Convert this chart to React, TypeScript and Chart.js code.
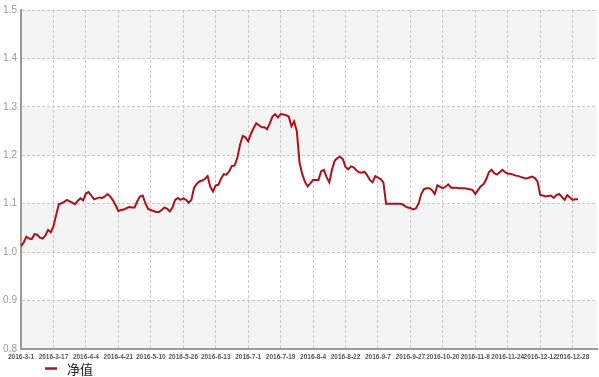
import React, { useEffect, useRef } from 'react';
import { Chart, registerables } from 'chart.js';

Chart.register(...registerables);

const seriesName = '净值';
const lineColor = '#b0101a';

const xTickLabels = [
  '2016-3-1', '2016-3-17', '2016-4-4', '2016-4-21', '2016-5-10', '2016-5-26',
  '2016-6-13', '2016-7-1', '2016-7-19', '2016-8-4', '2016-8-22', '2016-9-7',
  '2016-9-27', '2016-10-20', '2016-11-8', '2016-11-24', '2016-12-12', '2016-12-28',
];
const xTickIndex = [0, 12, 24, 36, 48, 60, 72, 84, 96, 108, 120, 132, 144, 156, 168, 180, 192, 204];

const navValues = [
  1.012, 1.020, 1.032, 1.028, 1.027, 1.037, 1.036, 1.030, 1.028, 1.034,
  1.046, 1.041, 1.053, 1.077, 1.099, 1.101, 1.104, 1.108, 1.105, 1.102,
  1.099, 1.106, 1.111, 1.107, 1.121, 1.124, 1.117, 1.109, 1.111, 1.113,
  1.112, 1.115, 1.120, 1.115, 1.107, 1.097, 1.085, 1.087, 1.088, 1.091,
  1.093, 1.092, 1.092, 1.105, 1.115, 1.117, 1.101, 1.089, 1.087, 1.085,
  1.083, 1.083, 1.087, 1.092, 1.090, 1.084, 1.092, 1.108, 1.112, 1.108,
  1.111, 1.108, 1.102, 1.108, 1.133, 1.141, 1.146, 1.148, 1.151, 1.157,
  1.135, 1.125, 1.138, 1.139, 1.152, 1.161, 1.160, 1.167, 1.178, 1.179,
  1.195, 1.222, 1.240, 1.237, 1.229, 1.244, 1.256, 1.266, 1.262, 1.258,
  1.258, 1.254, 1.266, 1.280, 1.285, 1.278, 1.285, 1.284, 1.283, 1.280,
  1.260, 1.270, 1.250, 1.185, 1.161, 1.145, 1.136, 1.142, 1.149, 1.149,
  1.149, 1.167, 1.170, 1.155, 1.144, 1.170, 1.189, 1.194, 1.197, 1.192,
  1.176, 1.171, 1.177, 1.175, 1.169, 1.165, 1.164, 1.166, 1.159, 1.149,
  1.144, 1.157, 1.154, 1.151, 1.144, 1.100, 1.100, 1.100, 1.100, 1.100,
  1.100, 1.099, 1.095, 1.092, 1.091, 1.088, 1.090, 1.100, 1.120, 1.130,
  1.132, 1.132, 1.128, 1.120, 1.138, 1.135, 1.132, 1.135, 1.140, 1.133,
  1.133, 1.133, 1.132, 1.132, 1.132, 1.131, 1.130, 1.128, 1.120, 1.128,
  1.136, 1.140, 1.150, 1.165, 1.170, 1.163, 1.160, 1.165, 1.170, 1.165,
  1.162, 1.162, 1.160, 1.158, 1.157, 1.155, 1.153, 1.152, 1.154, 1.156,
  1.153, 1.146, 1.118, 1.117, 1.115, 1.116, 1.117, 1.112, 1.118, 1.120,
  1.114, 1.108, 1.118, 1.113, 1.108, 1.109, 1.109,
];

const yMin = 0.8;
const yMax = 1.5;
const yStep = 0.1;
const xMax = 213;

const bandPlugin = {
  id: 'bands',
  beforeDraw(chart: any) {
    const { ctx, chartArea, scales } = chart;
    const y = scales.y;
    ctx.save();
    ctx.fillStyle = '#f4f4f4';
    for (let k = 0; k < 7; k += 2) {
      const lo = yMin + k * yStep;
      const hi = lo + yStep;
      const top = y.getPixelForValue(hi);
      const bot = y.getPixelForValue(lo);
      ctx.fillRect(chartArea.left, top, chartArea.right - chartArea.left, bot - top);
    }
    ctx.restore();
  },
};

const legendPlugin = {
  id: 'customLegend',
  afterDraw(chart: any) {
    const { ctx } = chart;
    const ds = chart.data.datasets[0];
    ctx.save();
    ctx.strokeStyle = ds.borderColor;
    ctx.lineWidth = 2.5;
    ctx.beginPath();
    ctx.moveTo(45, 368.5);
    ctx.lineTo(57, 368.5);
    ctx.stroke();
    ctx.fillStyle = '#222';
    ctx.font = '13px "Noto Sans CJK SC", sans-serif';
    ctx.textBaseline = 'middle';
    ctx.textAlign = 'left';
    ctx.fillText(ds.label, 67, 369);
    ctx.restore();
  },
};

export default function App() {
  const canvasRef = useRef<HTMLCanvasElement | null>(null);

  useEffect(() => {
    document.body.style.margin = '0';
    const canvas = canvasRef.current;
    if (!canvas) return;
    const chart = new Chart(canvas, {
      type: 'line',
      data: {
        datasets: [
          {
            label: seriesName,
            data: navValues.map((v, i) => ({ x: i, y: v })),
            borderColor: lineColor,
            borderWidth: 2,
            pointRadius: 0,
            tension: 0,
            fill: false,
          },
        ],
      },
      options: {
        responsive: false,
        animation: false,
        devicePixelRatio: 1,
        layout: { padding: { left: 0, right: 2, top: 10, bottom: 16 } },
        plugins: {
          legend: { display: false },
          tooltip: { enabled: false },
        },
        scales: {
          x: {
            type: 'linear',
            min: 0,
            max: xMax,
            afterBuildTicks: (scale: any) => {
              scale.ticks = xTickIndex.map((v) => ({ value: v }));
            },
            afterFit: (scale: any) => {
              scale.height = 12;
            },
            grid: { color: '#c8c8c8', lineWidth: 1, drawTicks: false },
            border: { display: true, color: '#9a9a9a', width: 2, dash: [3, 2] },
            ticks: {
              autoSkip: false,
              maxRotation: 0,
              padding: 4,
              color: '#555',
              font: { family: '"Liberation Sans", Arial, sans-serif', size: 6.5, weight: 'bold' },
              callback: (_v: any, idx: number) => xTickLabels[idx],
            },
          },
          y: {
            type: 'linear',
            min: yMin,
            max: yMax,
            afterFit: (scale: any) => {
              scale.width = 21;
            },
            grid: { color: '#c8c8c8', lineWidth: 1, drawTicks: false },
            border: { display: true, color: '#9a9a9a', width: 2, dash: [3, 2] },
            ticks: {
              stepSize: yStep,
              padding: 4,
              color: '#999',
              font: { family: '"Liberation Sans", Arial, sans-serif', size: 10 },
              callback: (v: any) => Number(v).toFixed(1),
            },
          },
        },
      },
      plugins: [bandPlugin, legendPlugin],
    } as any);
    return () => chart.destroy();
  }, []);

  return (
    <div style={{ width: 599, height: 377 }}>
      <canvas ref={canvasRef} width={599} height={377} style={{ display: 'block' }} />
    </div>
  );
}
